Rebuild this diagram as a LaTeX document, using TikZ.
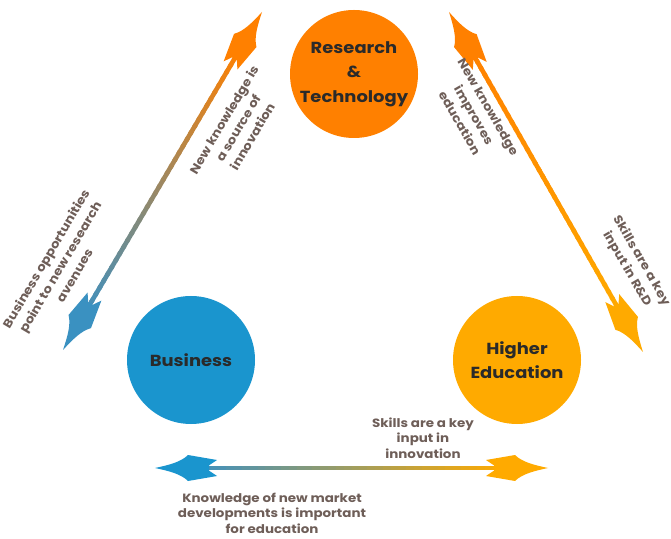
\documentclass[tikz,border=0pt]{standalone}
\usepackage{fontspec}
\newfontfamily\gothic[FakeStretch=1.12]{Poppins}
\usetikzlibrary{calc, positioning}

\definecolor{rtorange}{HTML}{FF8000}
\definecolor{busblue}{HTML}{1A95CE}
\definecolor{heamber}{HTML}{FFAA00}
\definecolor{steelblue}{HTML}{3E90C0}
\definecolor{labelgray}{HTML}{6E5E58}
\definecolor{circtext}{HTML}{2A2A2A}

\tikzset{
  circ/.style={circle, minimum size=128pt, inner sep=0pt, align=center,
    text=circtext, font=\gothic\bfseries\fontsize{16}{24.5}\selectfont},
  lbl/.style={align=center, text=labelgray, inner sep=0pt,
    font=\gothic\bfseries\fontsize{12}{15.5}\selectfont},
  rlbl/.style={lbl, font=\gothic\bfseries\fontsize{12}{16.5}\selectfont},
  shaft/.style={line width=4.6pt, line cap=butt},
  pics/barbhead/.style={code={
    \fill[#1] (0,0) .. controls (-14,3) and (-26,6) .. (-33,13) -- (-62,8)
      -- (-54,2.6) -- (-54,-2.6) -- (-62,-8) -- (-33,-13)
      .. controls (-26,-6) and (-14,-3) .. cycle;
  }},
}

\begin{document}
\begin{tikzpicture}[x=1pt, y=1pt, node distance=2cm, on grid]
  \useasboundingbox (0,0) rectangle (671,538);

  % the three partners
  \node (bus) [circ, fill=busblue] at (191,178) {Business};
  \node (he) [circ, fill=heamber, right=326pt of bus] {Higher\\Education};
  \node (rt) [circ, fill=rtorange, above right=286pt and 163pt of bus] {Research\\\&\\Technology};

  % arrow tips
  \coordinate (bl1) at (63,188);  \coordinate (bl2) at (262,526);
  \coordinate (br1) at (449,526); \coordinate (br2) at (643,186);
  \coordinate (bb1) at (155,70);  \coordinate (bb2) at (548,70);

  % shafts with colour running from one end to the other
  \foreach \a/\b/\ca/\cb in {bl1/bl2/steelblue/rtorange, br1/br2/rtorange/heamber, bb1/bb2/steelblue/heamber} {
    \coordinate (s1) at ($(\a)!40pt!(\b)$);
    \coordinate (s2) at ($(\b)!40pt!(\a)$);
    \foreach \i in {0,...,39} {
      \pgfmathtruncatemacro\p{100-\i*100/39}
      \draw[shaft, draw=\ca!\p!\cb] ($(s1)!{\i/40}!(s2)$) -- ($(s1)!{(\i+1.4)/40}!(s2)$);
    }
  }

  % barbed heads
  \pic[rotate=239.5] at (bl1) {barbhead=steelblue!90!busblue};
  \pic[rotate=59.5]  at (bl2) {barbhead=rtorange};
  \pic[rotate=119.7] at (br1) {barbhead=rtorange};
  \pic[rotate=-60.3] at (br2) {barbhead=heamber};
  \pic[rotate=180]   at (bb1) {barbhead=busblue};
  \pic               at (bb2) {barbhead=heamber};

  % labels
  \node (newinn) [rlbl, rotate=59.5] at (238,410) {New knowledge is\\a source of\\innovation};
  \node (busopp) [rlbl, rotate=59.5] at (60,271) {Business opportunities\\point to new research\\avenues};
  \node (newedu) [rlbl, rotate=-60] at (474,423) {New knowledge\\improves\\education};
  \node (skillrd) [rlbl, rotate=-60] at (634,273) {Skills are a key\\input in R\&D};
  \node (skillinn) [lbl] at (423,100) {Skills are a key\\input in\\innovation};
  \node (knowmkt) [lbl] at (272,25) {Knowledge of new market\\developments is important\\for education};
\end{tikzpicture}
\end{document}
